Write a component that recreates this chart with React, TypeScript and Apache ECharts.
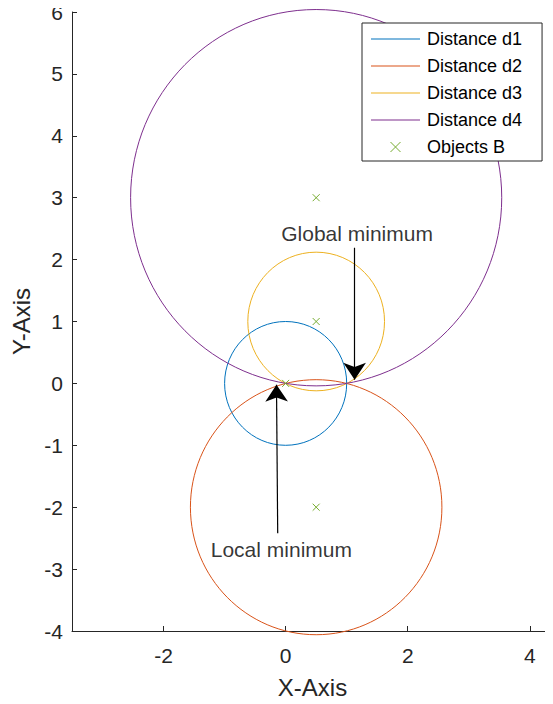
import React, { useEffect, useRef } from "react";
import * as echarts from "echarts";

const circleNames = ["Distance d1", "Distance d2", "Distance d3", "Distance d4"];
const circleColors = ["#0072BD", "#D95319", "#EDB120", "#7E2F8E"];
const centersX = [0, 0.5, 0.5, 0.5];
const centersY = [0, -2, 1, 3];
const radii = [1, 2.06, 1.12, 3.04];

const objectsB: number[][] = [[0, 0], [0.5, 1], [0.5, 3], [0.5, -2]];

const xTicks = [-2, 0, 2, 4];
const annotations = [
  { name: "Global minimum", pos: [1.17, 2.42], from: [1.13, 2.19], to: [1.13, 0.06] },
  { name: "Local minimum", pos: [-0.07, -2.68], from: [-0.13, -2.42], to: [-0.15, -0.02] },
];

const FONT = "Liberation Sans, Arial, Helvetica, sans-serif";
const AXIS_COLOR = "#262626";

export default function App() {
  const ref = useRef<HTMLDivElement>(null);
  useEffect(() => {
    if (!ref.current) return;
    const chart = echarts.init(ref.current, undefined, { renderer: "svg" });
    const circleSeries = circleNames.map((name, i) => ({
      name,
      type: "custom",
      coordinateSystem: "cartesian2d",
      clip: false,
      itemStyle: { color: circleColors[i] },
      encode: { x: 0, y: 1 },
      data: [[centersX[i], centersY[i], radii[i]]],
      renderItem: (params: any, api: any) => {
        const c = api.coord([api.value(0), api.value(1)]);
        const s = api.size([api.value(2), api.value(2)]);
        return {
          type: "ellipse",
          shape: { cx: c[0], cy: c[1], rx: s[0], ry: s[1] },
          style: { fill: "none", stroke: circleColors[i], lineWidth: 1 },
        };
      },
    }));
    const option: any = {
      animation: false,
      textStyle: { fontFamily: FONT },
      grid: { left: 72, right: 0, top: 12, bottom: 72 },
      xAxis: {
        type: "value",
        min: -3.5,
        max: 4.38,
        name: "X-Axis",
        nameLocation: "middle",
        nameGap: 44,
        nameTextStyle: { fontSize: 24, color: AXIS_COLOR, fontFamily: FONT },
        axisLine: { show: true, onZero: false, lineStyle: { color: AXIS_COLOR, width: 1 } },
        axisTick: { show: true, inside: true, length: 5, customValues: xTicks, lineStyle: { color: AXIS_COLOR } },
        axisLabel: { customValues: xTicks, fontSize: 21, color: AXIS_COLOR, margin: 14, fontFamily: FONT },
        splitLine: { show: false },
      },
      yAxis: {
        type: "value",
        min: -4,
        max: 6,
        interval: 1,
        name: "Y-Axis",
        nameLocation: "middle",
        nameGap: 33,
        nameTextStyle: { fontSize: 24, color: AXIS_COLOR, fontFamily: FONT },
        axisLine: { show: true, onZero: false, lineStyle: { color: AXIS_COLOR, width: 1 } },
        axisTick: { show: true, inside: true, length: 5, lineStyle: { color: AXIS_COLOR } },
        axisLabel: { fontSize: 21, color: AXIS_COLOR, margin: 9, fontFamily: FONT },
        splitLine: { show: false },
      },
      legend: {
        orient: "vertical",
        left: 362,
        top: 23,
        padding: [7, 20, 5, 9],
        itemGap: 9,
        itemWidth: 49,
        itemHeight: 10,
        backgroundColor: "#ffffff",
        borderColor: AXIS_COLOR,
        borderWidth: 1,
        borderRadius: 0,
        selectedMode: false,
        textStyle: { fontSize: 18, color: "#000000", lineHeight: 18, fontFamily: FONT, padding: [0, 0, 0, 2] },
        data: [
          ...circleNames.map((n, i) => ({
            name: n,
            icon: "path://M0,4.5H49V5.5H0Z",
            itemStyle: { color: circleColors[i], borderWidth: 0 },
          })),
          {
            name: "Objects B",
            icon: "path://M0,0L10,10M10,0L0,10",
            itemStyle: { color: "none", borderColor: "#77AC30", borderWidth: 1 },
          },
        ],
      },
      series: [
        ...circleSeries,
        {
          name: "Objects B",
          type: "scatter",
          symbol: "path://M0,0L10,10M10,0L0,10",
          symbolSize: 7,
          itemStyle: { color: "none", borderColor: "#77AC30", borderWidth: 1, opacity: 1 },
          data: objectsB,
          z: 5,
        },
        {
          name: "arrows",
          type: "lines",
          coordinateSystem: "cartesian2d",
          symbol: ["none", "arrow"],
          symbolSize: [12, 17],
          lineStyle: { color: "#000000", width: 1.2, opacity: 1 },
          data: annotations.map((a) => ({ coords: [a.from, a.to] })),
          z: 6,
        },
        {
          name: "annotationText",
          type: "scatter",
          symbolSize: 0,
          data: annotations.map((a) => ({ name: a.name, value: a.pos })),
          label: {
            show: true,
            position: "inside",
            formatter: (p: any) => p.name,
            fontSize: 21,
            color: "#000000",
            fontFamily: FONT,
          },
          z: 7,
        },
      ],
    };
    chart.setOption(option);
    return () => chart.dispose();
  }, []);
  return <div ref={ref} style={{ width: 553, height: 704, marginLeft: -8, marginTop: -8 }} />;
}
